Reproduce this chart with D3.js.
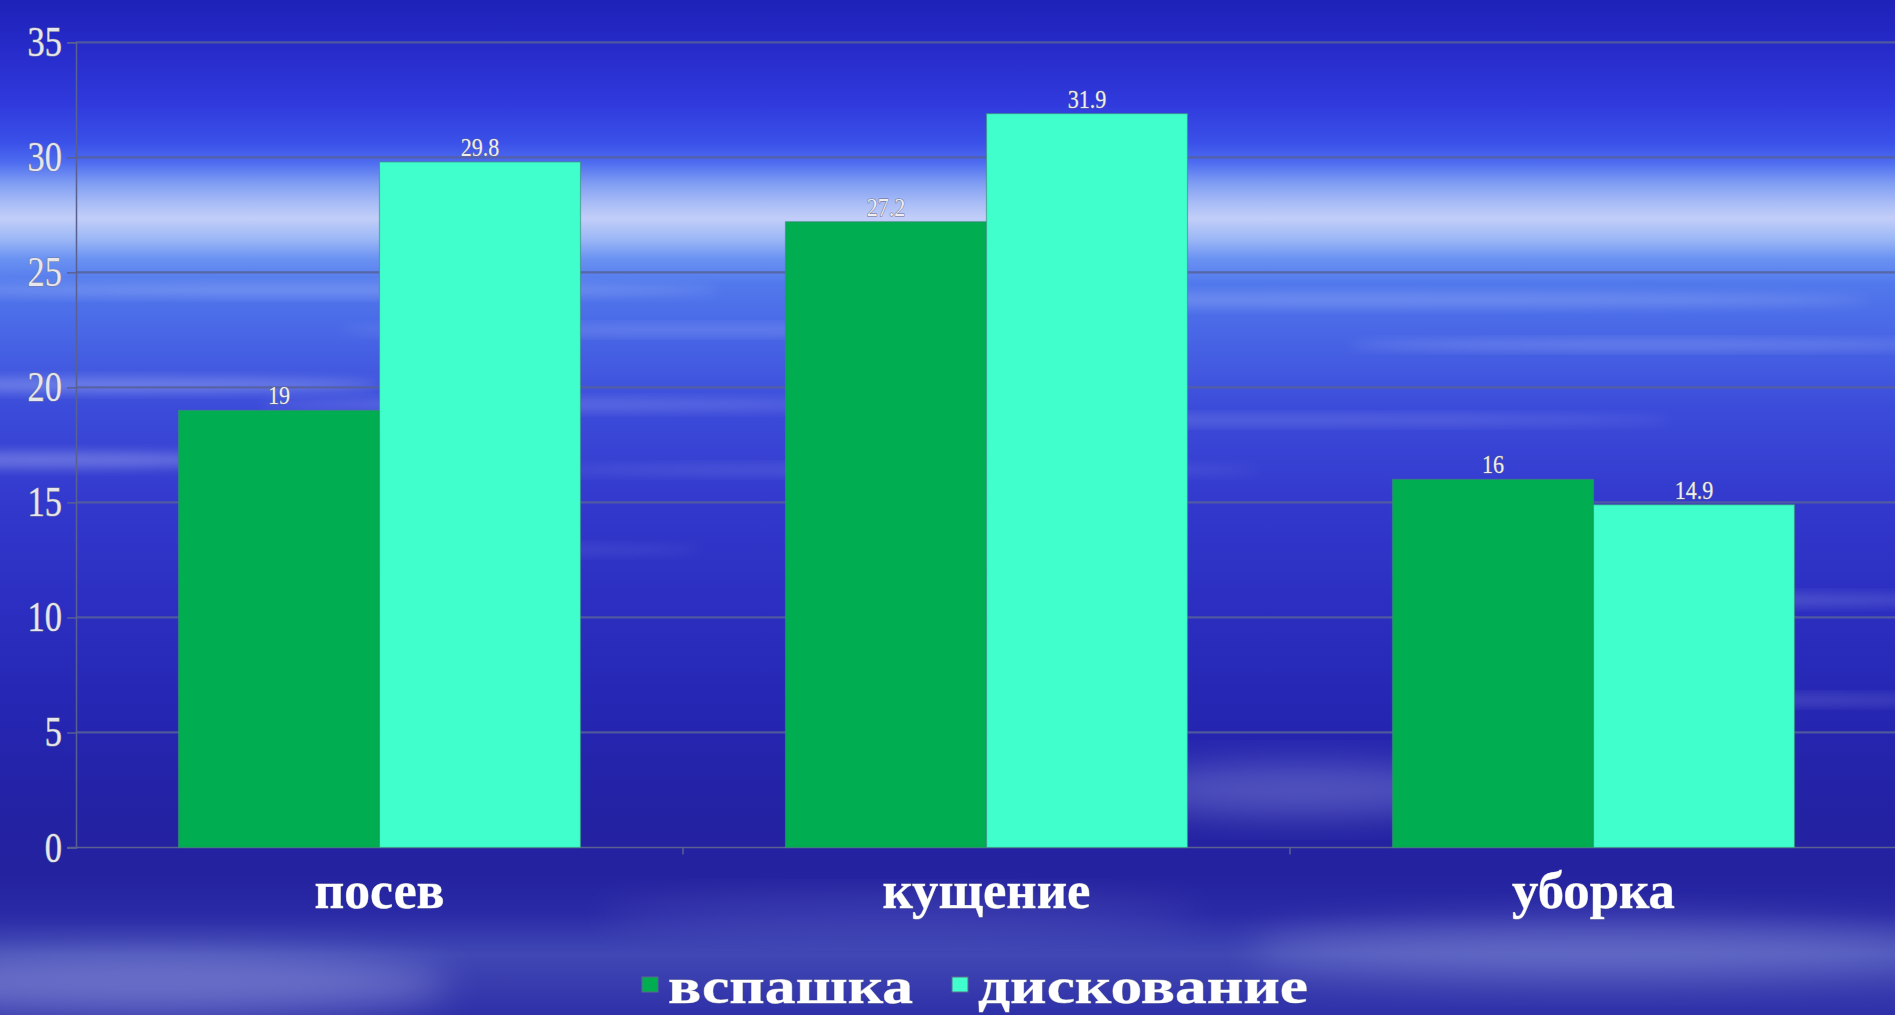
<!DOCTYPE html>
<html>
<head>
<meta charset="utf-8">
<script src="https://cdn.jsdelivr.net/npm/d3@7/dist/d3.min.js"></script>
<style>
html,body{margin:0;padding:0;background:#2a2ec0;overflow:hidden;}
svg{display:block;}
</style>
</head>
<body>
<svg id="chart" width="1895" height="1015"></svg>
<script>
// ---- data ----
const categories = ["посев", "кущение", "уборка"];
const seriesNames = ["вспашка", "дискование"];
const seriesColors = ["#00ad50", "#40ffcc"];
const vspashka = [19, 27.2, 16];
const diskovanie = [29.8, 31.9, 14.9];
const yTicks = [0, 5, 10, 15, 20, 25, 30, 35];
const labelWidths = [130, 208, 163];     // visual width of category labels
const legendWidths = [245, 330];

const W = 1895, H = 1015;
const svg = d3.select("#chart");
const defs = svg.append("defs");

// background gradient
const bg = defs.append("linearGradient").attr("id","bg").attr("x1",0).attr("y1",0).attr("x2",0).attr("y2",1);
[[0,"#1f22b8"],[0.04,"#2529c6"],[0.10,"#3039dc"],[0.14,"#3a50e8"],[0.16,"#4d6cf0"],[0.18,"#7e9cf3"],
 [0.20,"#a8bcf6"],[0.215,"#c2cef8"],[0.235,"#9db8f6"],[0.255,"#6a92f2"],[0.28,"#5178ec"],[0.33,"#4866e6"],
 [0.40,"#3c4cda"],[0.50,"#3238cc"],[0.60,"#2b2ec0"],[0.70,"#2526b2"],[0.80,"#2322a4"],[0.86,"#24229e"],
 [0.90,"#2a2aa6"],[0.94,"#4048b4"],[0.97,"#383cae"],[1,"#2e30a8"]]
 .forEach(([o,c]) => bg.append("stop").attr("offset",o).attr("stop-color",c));
svg.append("rect").attr("width",W).attr("height",H).attr("fill","url(#bg)");

// soft streaks (decor)
const blur = defs.append("filter").attr("id","blur").attr("x","-50%").attr("y","-50%").attr("width","200%").attr("height","200%");
blur.append("feGaussianBlur").attr("stdDeviation", 6);
const blurBig = defs.append("filter").attr("id","blurBig").attr("x","-50%").attr("y","-50%").attr("width","200%").attr("height","200%");
blurBig.append("feGaussianBlur").attr("stdDeviation", 18);
const streaks = [
  [300,290,420,6,0.25],[1350,300,520,7,0.22],[700,330,360,5,0.2],[1650,345,300,5,0.25],
  [120,385,260,7,0.3],[560,405,300,6,0.2],[1250,420,420,5,0.18],[40,460,200,8,0.3],
  [900,470,360,5,0.15],[1750,600,200,6,0.2],[1800,700,150,5,0.18],[450,550,250,5,0.12]
];
svg.append("g").selectAll("ellipse").data(streaks).join("ellipse")
  .attr("cx",d=>d[0]).attr("cy",d=>d[1]).attr("rx",d=>d[2]).attr("ry",d=>d[3])
  .attr("fill","#e0e8ff").attr("opacity",d=>d[4]).attr("filter","url(#blur)");
const clouds = [[1300,790,180,25,0.3],[150,985,300,30,0.35],[1600,950,350,28,0.25],[900,915,300,18,0.12]];
svg.append("g").selectAll("ellipse").data(clouds).join("ellipse")
  .attr("cx",d=>d[0]).attr("cy",d=>d[1]).attr("rx",d=>d[2]).attr("ry",d=>d[3])
  .attr("fill","#c8d0f8").attr("opacity",d=>d[4]).attr("filter","url(#blurBig)");

// ---- scales ----
const plotLeft = 76, plotRight = 1897, plotTop = 42.3, plotBottom = 847.5;
const x0 = d3.scaleBand().domain(categories).range([plotLeft, plotRight]).paddingInner(0).paddingOuter(0);
const barW = 201;
const y = d3.scaleLinear().domain([0, 35]).range([plotBottom, plotTop]);

// gridlines
svg.append("g").selectAll("line").data(yTicks.filter(t=>t>0)).join("line")
  .attr("x1", plotLeft).attr("x2", W).attr("y1", d=>y(d)).attr("y2", d=>y(d))
  .attr("stroke", "#56609a").attr("stroke-opacity", 0.85).attr("stroke-width", 2.2);

// y axis
const yAxis = svg.append("g").attr("transform", `translate(${plotLeft},0)`)
  .call(d3.axisLeft(y).tickValues(yTicks).tickSize(9).tickFormat(d3.format("d")));
yAxis.select(".domain").attr("stroke","#5a6090").attr("stroke-width",1.5);
yAxis.selectAll(".tick line").attr("stroke","#5a6090").attr("stroke-width",1.5);
yAxis.selectAll(".tick text").remove();
svg.append("g").selectAll("text").data(yTicks).join("text")
  .attr("transform", d => `translate(62,${y(d)+14}) scale(0.8,1)`)
  .attr("text-anchor","end")
  .attr("font-family","'Liberation Serif', 'DejaVu Serif', serif")
  .attr("font-size", 43)
  .attr("fill","#e6e6ee")
  .attr("stroke","#7a7c98").attr("stroke-width",1.2).attr("paint-order","stroke")
  .text(d => d);

// x axis baseline
svg.append("line").attr("x1", plotLeft-9).attr("x2", W).attr("y1", plotBottom).attr("y2", plotBottom)
  .attr("stroke","#5a6090").attr("stroke-width",1.5);
svg.append("g").selectAll("line").data(categories.slice(1)).join("line")
  .attr("x1", d=>x0(d)).attr("x2", d=>x0(d)).attr("y1", plotBottom).attr("y2", plotBottom+7)
  .attr("stroke","#5a6090").attr("stroke-width",1.5);

// bars
const series = [vspashka, diskovanie];
const groupW = barW*2;
const barsData = [];
categories.forEach((c,i) => {
  series.forEach((s,j) => {
    const bx = x0(c) + (x0.bandwidth()-groupW)/2 + j*barW;
    barsData.push({c, j, v: s[i], x: bx});
  });
});
svg.append("g").selectAll("rect").data(barsData).join("rect")
  .attr("x", d=>d.x).attr("width", barW)
  .attr("y", d=>y(d.v)).attr("height", d=>y(0)-y(d.v))
  .attr("fill", d=>seriesColors[d.j])
  .attr("stroke", "#3c8a78").attr("stroke-opacity",0.6).attr("stroke-width",1.2);

// value labels
svg.append("g").selectAll("text").data(barsData).join("text")
  .attr("transform", d => `translate(${d.x+barW/2},${y(d.v)-6}) scale(0.85,1)`)
  .attr("text-anchor","middle")
  .attr("font-family","'Liberation Serif', serif")
  .attr("font-size", 26)
  .attr("fill","#eeeef2")
  .attr("stroke","#6a6c88").attr("stroke-width",1).attr("paint-order","stroke")
  .text(d => d.v);

// category labels
svg.append("g").selectAll("text").data(categories).join("text")
  .attr("x", d => x0(d) + x0.bandwidth()/2 - labelWidths[categories.indexOf(d)]/2)
  .attr("y", 908)
  .attr("textLength", (d,i) => labelWidths[i])
  .attr("lengthAdjust","spacingAndGlyphs")
  .attr("font-family","'Liberation Serif', serif")
  .attr("font-weight","bold")
  .attr("font-size", 52)
  .attr("fill","#ffffff")
  .attr("stroke","#9a9cb0").attr("stroke-width",0.8).attr("paint-order","stroke")
  .text(d => d);

// legend
const legendX = [642, 952];
const lg = svg.append("g").selectAll("g").data(seriesNames).join("g");
lg.append("rect").attr("x",(d,i)=>legendX[i]).attr("y",977).attr("width",16).attr("height",15)
  .attr("fill",(d,i)=>seriesColors[i]).attr("stroke","#5a6a90").attr("stroke-width",1);
lg.append("text")
  .attr("x",(d,i)=>legendX[i]+26).attr("y",1003)
  .attr("textLength",(d,i)=>legendWidths[i]).attr("lengthAdjust","spacingAndGlyphs")
  .attr("font-family","'Liberation Serif', serif").attr("font-weight","bold").attr("font-size",50)
  .attr("fill","#ffffff").attr("stroke","#9a9cb0").attr("stroke-width",0.8).attr("paint-order","stroke")
  .text(d=>d);
</script>
</body>
</html>
